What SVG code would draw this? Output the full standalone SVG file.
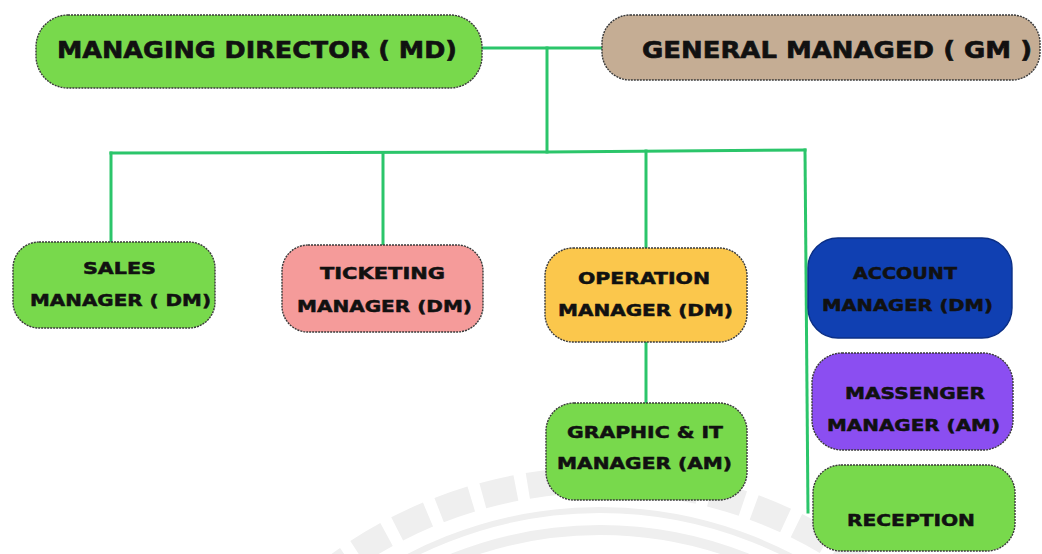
<svg xmlns="http://www.w3.org/2000/svg" width="1042" height="554" viewBox="0 0 1042 554">
<style>
.box{stroke:#3a3a3a;stroke-width:1.4;stroke-dasharray:2 1}
.t{font-family:"DejaVu Sans","Liberation Sans",sans-serif;font-weight:bold;fill:#111;stroke:#111;stroke-width:0.5;font-size:16px}
.tb{font-family:"DejaVu Sans","Liberation Sans",sans-serif;font-weight:bold;fill:#111;stroke:#111;stroke-width:0.6;font-size:23px}
.c{fill:none;stroke:#2bc56a;stroke-width:3;stroke-linecap:square}
.g{fill:#78d94c}
.wm{fill:none;stroke:#efefef}
</style>
<rect width="1042" height="554" fill="#ffffff"/>
<g id="watermark">
<circle class="wm" cx="600" cy="925" r="445" stroke-width="26" stroke-dasharray="34 12"/>
<circle class="wm" cx="600" cy="925" r="415" stroke-width="6"/>
<circle class="wm" cx="600" cy="925" r="395" stroke-width="10"/>
</g>
<g id="connectors">
<path class="c" d="M482 48 H602"/>
<path class="c" d="M547 48 V152"/>
<path class="c" d="M111 153 L547 152 L805 150"/>
<path class="c" d="M111 153 V242"/>
<path class="c" d="M383 153 V245"/>
<path class="c" d="M646 151 V248"/>
<path class="c" d="M646 342 V403"/>
<path class="c" d="M805 150 L808 512"/>
</g>
<g id="md">
<rect class="box g" x="36" y="15" width="446" height="73" rx="32"/>
<text class="tb" x="57" y="58" textLength="400" lengthAdjust="spacingAndGlyphs">MANAGING DIRECTOR ( MD)</text>
</g>
<g id="gm">
<rect class="box" fill="#c5ad94" x="602" y="15" width="438" height="65" rx="28"/>
<text class="tb" x="642" y="58" textLength="390" lengthAdjust="spacingAndGlyphs">GENERAL MANAGED ( GM )</text>
</g>
<g id="sales">
<rect class="box g" x="13" y="242" width="202" height="86" rx="26"/>
<text class="t" x="83" y="274" textLength="73" lengthAdjust="spacingAndGlyphs">SALES</text>
<text class="t" x="30" y="306" textLength="181" lengthAdjust="spacingAndGlyphs">MANAGER ( DM)</text>
</g>
<g id="ticketing">
<rect class="box" fill="#f59b9a" x="282" y="245" width="201" height="87" rx="26"/>
<text class="t" x="320" y="279" textLength="125" lengthAdjust="spacingAndGlyphs">TICKETING</text>
<text class="t" x="297" y="312" textLength="175" lengthAdjust="spacingAndGlyphs">MANAGER (DM)</text>
</g>
<g id="operation">
<rect class="box" fill="#fbc74c" x="545" y="248" width="202" height="94" rx="28"/>
<text class="t" x="578" y="284" textLength="132" lengthAdjust="spacingAndGlyphs">OPERATION</text>
<text class="t" x="558" y="316" textLength="175" lengthAdjust="spacingAndGlyphs">MANAGER (DM)</text>
</g>
<g id="account">
<rect fill="#1040b2" stroke="#0b2f86" stroke-width="1.4" x="808" y="238" width="204" height="100" rx="30"/>
<text class="t" x="853" y="279" textLength="104" lengthAdjust="spacingAndGlyphs">ACCOUNT</text>
<text class="t" x="822" y="311" textLength="171" lengthAdjust="spacingAndGlyphs">MANAGER (DM)</text>
</g>
<g id="messenger">
<rect class="box" fill="#8b4ef1" x="812" y="353" width="201" height="97" rx="30"/>
<text class="t" x="845" y="399" textLength="140" lengthAdjust="spacingAndGlyphs">MASSENGER</text>
<text class="t" x="827" y="431" textLength="173" lengthAdjust="spacingAndGlyphs">MANAGER (AM)</text>
</g>
<g id="graphic">
<rect class="box g" x="546" y="403" width="201" height="97" rx="28"/>
<text class="t" x="567" y="438" textLength="156" lengthAdjust="spacingAndGlyphs">GRAPHIC &amp; IT</text>
<text class="t" x="557" y="469" textLength="175" lengthAdjust="spacingAndGlyphs">MANAGER (AM)</text>
</g>
<g id="reception">
<rect class="box g" x="813" y="465" width="202" height="86" rx="28"/>
<text class="t" x="847" y="526" textLength="128" lengthAdjust="spacingAndGlyphs">RECEPTION</text>
</g>
</svg>
